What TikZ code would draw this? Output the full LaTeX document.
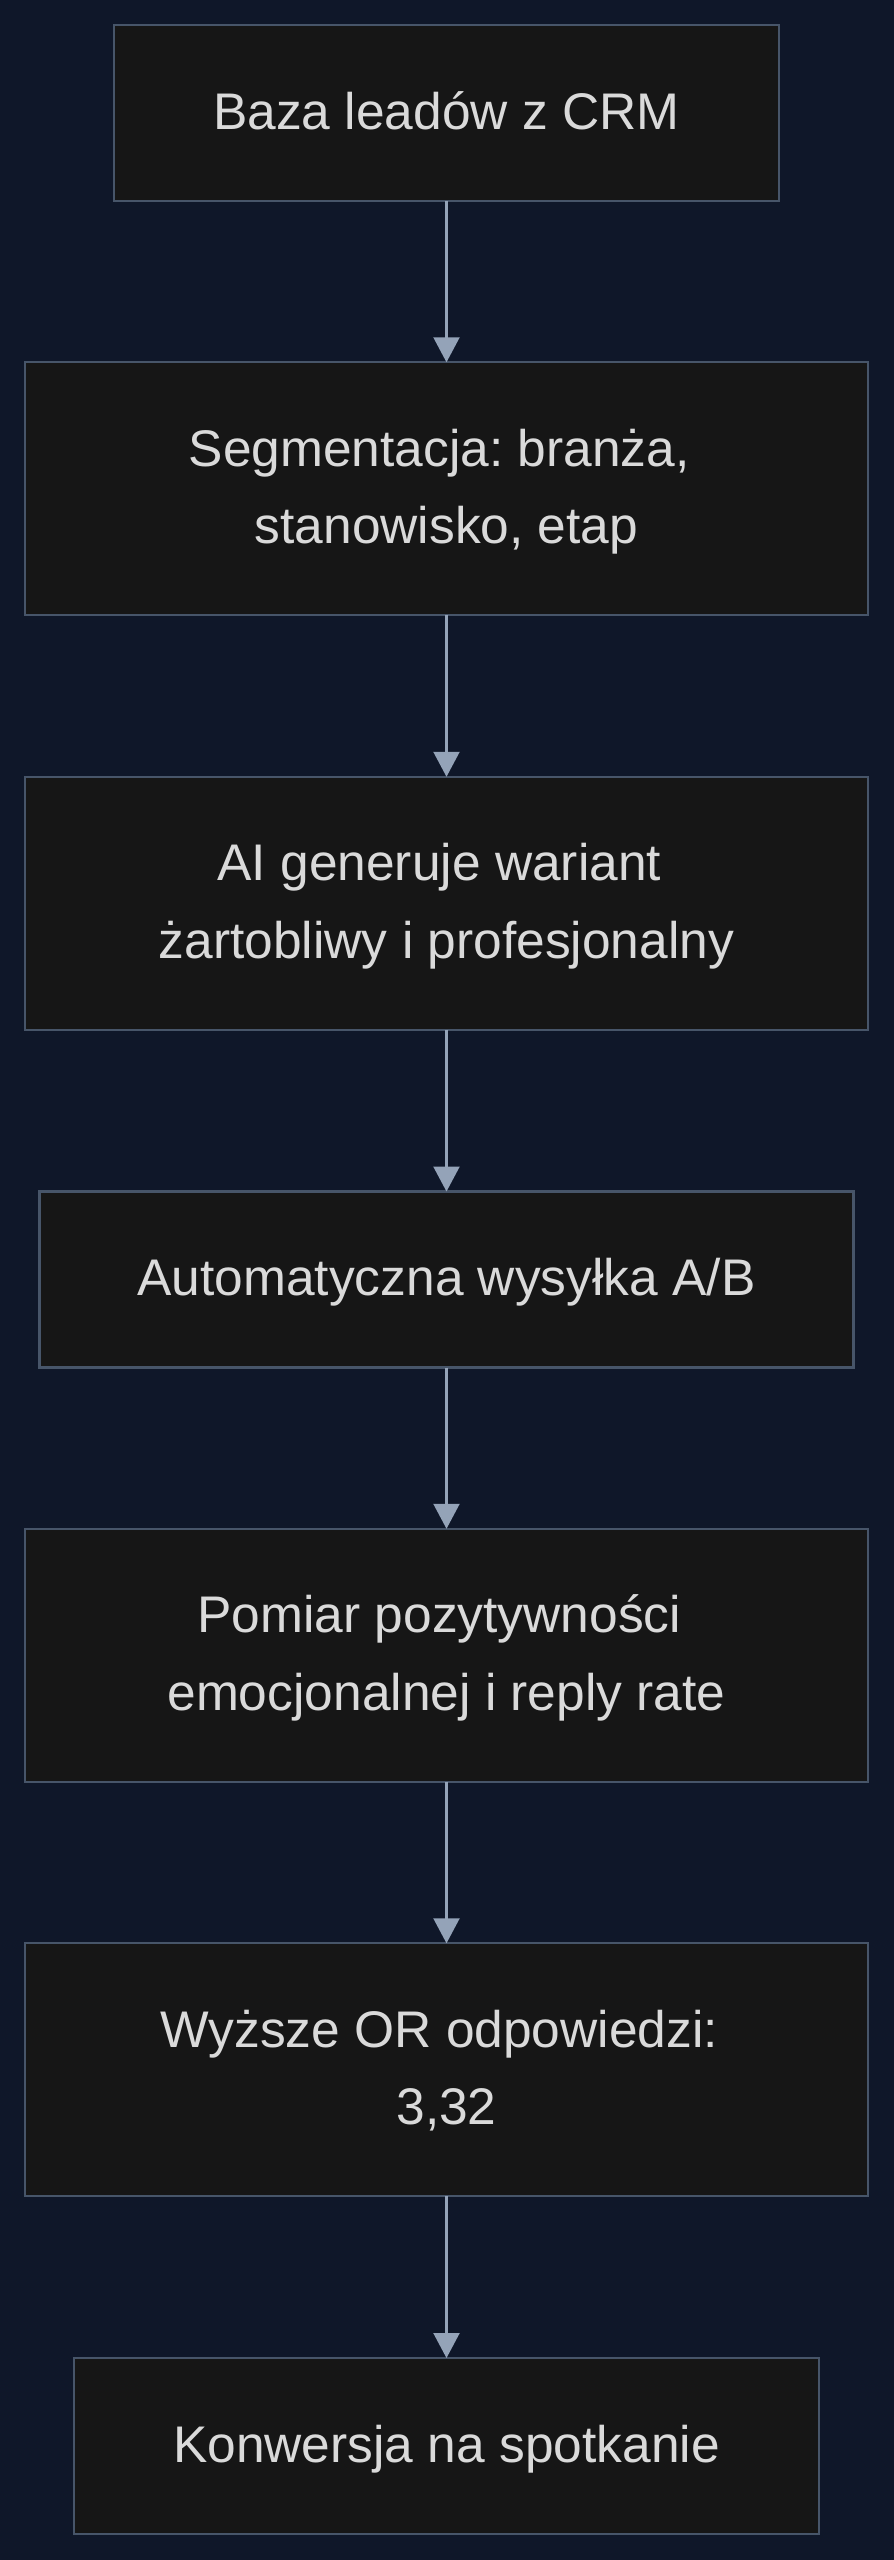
\documentclass[tikz,border=0pt]{standalone}
\usepackage{fontspec}
\setmainfont{Liberation Sans}
\usetikzlibrary{arrows.meta}
\frenchspacing
\definecolor{bgc}{HTML}{0F1729}
\definecolor{boxfill}{HTML}{161616}
\definecolor{boxline}{HTML}{475569}
\definecolor{arrc}{HTML}{94A3B8}
\definecolor{txtc}{HTML}{DADADA}
\tikzset{
  flowbox/.style={rectangle, draw=boxline, fill=boxfill, line width=2.2pt, inner sep=0pt, outer sep=0pt},
  onebox/.style={flowbox, minimum height=176pt},
  twobox/.style={flowbox, minimum height=253pt},
  txt/.style={anchor=base, inner sep=0pt, text=txtc, font=\frenchspacing\fontsize{51.5}{77.25}\selectfont},
  flowarrow/.style={draw=arrc, line width=2.2pt, -{Triangle[width=26pt,length=25pt]}}
}
\begin{document}
\begin{tikzpicture}[x=1pt,y=-1pt]
\fill[bgc] (0,0) rectangle (894,2560);
\useasboundingbox (0,0) rectangle (894,2560);
% boxes
\node[onebox, minimum width=665pt] (b1) at (446.5,113) {};
\node[twobox, minimum width=843pt] (b2) at (446.5,488.75) {};
\node[twobox, minimum width=843pt] (b3) at (446.5,903.25) {};
\node[onebox, minimum width=814pt] (b4) at (446.5,1279.5) {};
\node[twobox, minimum width=843pt] (b5) at (446.5,1655.25) {};
\node[twobox, minimum width=843pt] (b6) at (446.5,2069.75) {};
\node[onebox, minimum width=745pt] (b7) at (446.5,2446) {};
% texts
\node[txt] (t1) at ([yshift=-16.4pt]b1.center) {Baza leadów z CRM};
\node[txt] (t2a) at ([xshift=-7.2pt,yshift=22.35pt]b2.center) {Segmentacja: branża,};
\node[txt] (t2b) at ([yshift=-55.15pt]b2.center) {stanowisko, etap};
\node[txt] (t3a) at ([xshift=-7.2pt,yshift=22.35pt]b3.center) {AI generuje wariant};
\node[txt] (t3b) at ([yshift=-55.15pt]b3.center) {żartobliwy i profesjonalny};
\node[txt] (t4) at ([yshift=-16.4pt]b4.center) {Automatyczna wysyłka A/B};
\node[txt] (t5a) at ([xshift=-7.2pt,yshift=22.35pt]b5.center) {Pomiar pozytywności};
\node[txt] (t5b) at ([yshift=-55.15pt]b5.center) {emocjonalnej i reply rate};
\node[txt] (t6a) at ([xshift=-7.2pt,yshift=22.35pt]b6.center) {Wyższe OR odpowiedzi:};
\node[txt] (t6b) at ([yshift=-55.15pt]b6.center) {3,32};
\node[txt] (t7) at ([yshift=-16.4pt]b7.center) {Konwersja na spotkanie};
% connectors
\draw[flowarrow] (b1.south) -- (b2.north);
\draw[flowarrow] (b2.south) -- (b3.north);
\draw[flowarrow] (b3.south) -- (b4.north);
\draw[flowarrow] (b4.south) -- (b5.north);
\draw[flowarrow] (b5.south) -- (b6.north);
\draw[flowarrow] (b6.south) -- (b7.north);
\end{tikzpicture}
\end{document}
